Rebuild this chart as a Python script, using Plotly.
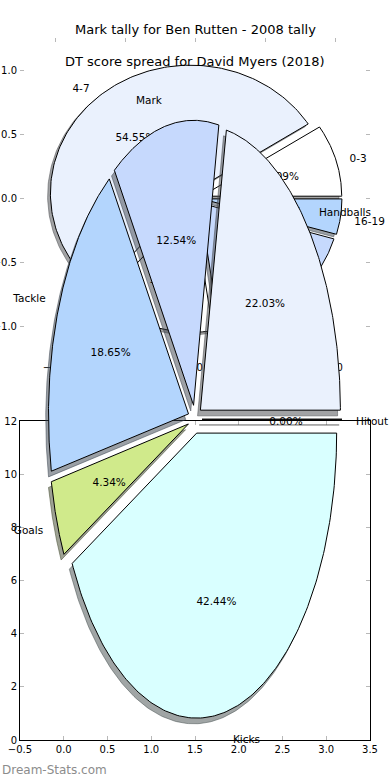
import numpy as np
import plotly.graph_objects as go

# ---------------- data ----------------
tally_labels = ["0-3", "4-7", "8-11", "12-15", "16-19"]
tally_counts = [2, 12, 3, 4, 1]
tally_colors = ["#ffffff", "#eaf1fd", "#ffffff", "#c6d9fd", "#b3d5fd"]

stat_labels = ["Handballs", "Mark", "Tackle", "Goals", "Kicks", "Hitout"]
stat_values = [22.03, 12.54, 18.65, 4.34, 42.44, 0.00]
stat_colors = ["#eaf1fd", "#c6d9fd", "#b3d5fd", "#d0ea8b", "#d9ffff", "#ffffff"]

title_tally = "Mark tally for Ben Rutten - 2008 tally"
title_stats = "DT score spread for David Myers (2018)"
watermark = "Dream-Stats.com"

pie_ticks = [-1.0, -0.5, 0.0, 0.5, 1.0]
bottom_xticks = [-0.5, 0.0, 0.5, 1.0, 1.5, 2.0, 2.5, 3.0, 3.5]
bottom_yticks = [0, 2, 4, 6, 8, 10, 12]

FONT = "DejaVu Sans"
W, H = 390, 780


def hex_rgb(h):
    h = h.lstrip("#")
    return tuple(int(h[i:i + 2], 16) for i in (0, 2, 4))


def pie_geometry(values, explode=0.05, r=1.0, start=0.0, n=160):
    total = float(sum(values))
    t1 = start
    out = []
    for v in values:
        t2 = t1 + 360.0 * v / total
        tm = np.radians((t1 + t2) / 2.0)
        cx, cy = explode * r * np.cos(tm), explode * r * np.sin(tm)
        ang = np.radians(np.linspace(t1, t2, n))
        xs = np.concatenate([[cx], cx + r * np.cos(ang), [cx]])
        ys = np.concatenate([[cy], cy + r * np.sin(ang), [cy]])
        out.append(dict(xs=xs, ys=ys, cx=cx, cy=cy, tm=tm, pct=100.0 * v / total))
        t1 = t2
    return out


def add_pie(fig, values, labels, colors, xa, ya, px_per_unit_y, fsize=10.5):
    geo = pie_geometry(values)
    dy = 3.0 / px_per_unit_y  # text nudge (matplotlib centres on the text bbox)
    # shadows first (beneath all wedges)
    for g, c in zip(geo, colors):
        rr, gg, bb = hex_rgb(c)
        sc = "rgba(%d,%d,%d,0.5)" % (0.3 * rr, 0.3 * gg, 0.3 * bb)
        fig.add_trace(go.Scatter(x=g["xs"] - 0.02, y=g["ys"] - 0.02, mode="lines",
                                 fill="toself", fillcolor=sc,
                                 line=dict(color=sc, width=1),
                                 xaxis=xa, yaxis=ya, hoverinfo="skip"))
    for g, c in zip(geo, colors):
        fig.add_trace(go.Scatter(x=g["xs"], y=g["ys"], mode="lines",
                                 fill="toself", fillcolor=c,
                                 line=dict(color="black", width=1),
                                 xaxis=xa, yaxis=ya, hoverinfo="skip"))
    for g, lab in zip(geo, labels):
        xt = g["cx"] + 1.1 * np.cos(g["tm"])
        yt = g["cy"] + 1.1 * np.sin(g["tm"]) - dy
        pos = "middle right" if xt > 0 else "middle left"
        fig.add_trace(go.Scatter(x=[xt], y=[yt], mode="text", text=[lab],
                                 textposition=pos, cliponaxis=False,
                                 textfont=dict(family=FONT, size=fsize, color="black"),
                                 xaxis=xa, yaxis=ya, hoverinfo="skip"))
        xp = g["cx"] + 0.6 * np.cos(g["tm"])
        yp = g["cy"] + 0.6 * np.sin(g["tm"]) - dy
        fig.add_trace(go.Scatter(x=[xp], y=[yp], mode="text", text=["%.2f%%" % g["pct"]],
                                 textposition="middle center", cliponaxis=False,
                                 textfont=dict(family=FONT, size=fsize, color="black"),
                                 xaxis=xa, yaxis=ya, hoverinfo="skip"))


fig = go.Figure()

xdom = [20 / W, 370 / W]


def ydom(top, bottom):
    return [(H - bottom) / H, (H - top) / H]


tally_dom = ydom(38, 358)
stats_dom = ydom(63, 775.5)
tally_ppu = (tally_dom[1] - tally_dom[0]) * H / 2.5
stats_ppu = (stats_dom[1] - stats_dom[0]) * H / 2.5

# bottom axes (decoration only) -> subplot xy
fig.add_trace(go.Scatter(x=[None], y=[None], xaxis="x", yaxis="y", hoverinfo="skip"))
# tally pie -> subplot x2y2
add_pie(fig, tally_counts, tally_labels, tally_colors, "x2", "y2", tally_ppu)
# stats pie -> subplot x3y3 (drawn last, on top)
add_pie(fig, stat_values, stat_labels, stat_colors, "x3", "y3", stats_ppu)

tick_common = dict(ticks="inside", ticklen=4, tickwidth=1, tickcolor="#b8b8b8",
                   showgrid=False, zeroline=False, automargin=False,
                   tickfont=dict(family=FONT, size=10, color="black"))

fig.update_layout(
    template="none",
    width=W, height=H, margin=dict(l=0, r=0, t=0, b=0, autoexpand=False),
    paper_bgcolor="white", plot_bgcolor="rgba(0,0,0,0)",
    showlegend=False, hovermode=False,
    xaxis=dict(domain=xdom, range=[-0.5, 3.5], tickvals=bottom_xticks, tickformat=".1f",
               anchor="y", showline=True, linecolor="black", linewidth=1,
               mirror="allticks", **tick_common),
    yaxis=dict(domain=ydom(421, 740), range=[0, 12], tickvals=bottom_yticks,
               anchor="x", showline=True, linecolor="black", linewidth=1,
               mirror="allticks", **tick_common),
    xaxis2=dict(domain=xdom, range=[-1.25, 1.25], tickvals=pie_ticks, tickformat=".1f",
                anchor="y2", showline=True, linecolor="rgba(0,0,0,0)",
                mirror="allticks", **tick_common),
    yaxis2=dict(domain=tally_dom, range=[-1.25, 1.25], tickvals=pie_ticks,
                tickformat=".1f", anchor="x2", showline=True,
                linecolor="rgba(0,0,0,0)", mirror="allticks", **tick_common),
    xaxis3=dict(domain=xdom, range=[-1.25, 1.25], anchor="y3", visible=False,
                automargin=False),
    yaxis3=dict(domain=stats_dom, range=[-1.25, 1.25], anchor="x3", visible=False,
                automargin=False),
)

fig.add_annotation(text=title_tally, xref="paper", yref="paper", x=195 / W, y=(H - 30) / H,
                   showarrow=False, xanchor="center", yanchor="middle",
                   font=dict(family=FONT, size=13, color="black"))
fig.add_annotation(text=title_stats, xref="paper", yref="paper", x=195 / W, y=(H - 61) / H,
                   showarrow=False, xanchor="center", yanchor="middle",
                   font=dict(family=FONT, size=13, color="black"))
fig.add_annotation(text=watermark, xref="paper", yref="paper", x=0, y=(H - 770) / H,
                   showarrow=False, xanchor="left", yanchor="middle",
                   font=dict(family=FONT, size=12, color="#8c8c8c"))

fig.write_html("out.html")
